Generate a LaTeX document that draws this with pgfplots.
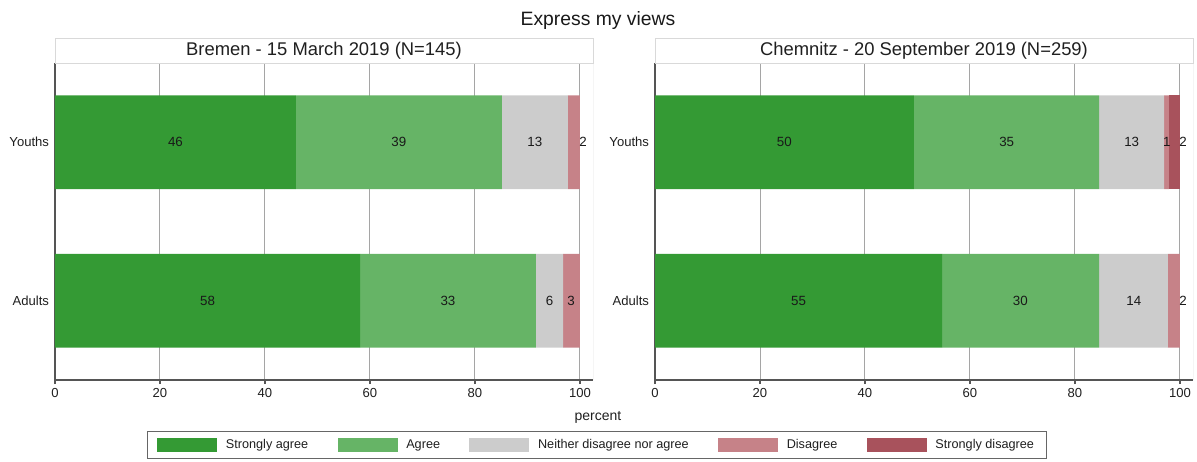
\documentclass[border=0pt]{standalone}
\usepackage{fontspec}
\setmainfont{Liberation Sans}
\usepackage{pgfplots}
\pgfplotsset{compat=1.18}
\usepackage{pgfplotstable}

\definecolor{sagree}{RGB}{52,154,52}
\definecolor{agree}{RGB}{102,180,102}
\definecolor{neith}{RGB}{204,204,204}
\definecolor{disag}{RGB}{198,130,136}
\definecolor{sdisag}{RGB}{168,82,92}
\definecolor{gridc}{RGB}{165,165,165}
\definecolor{axc}{RGB}{85,85,85}

\pgfplotstableread{
y SA A N D SD
1 58.1 33.5 5.2 3.2 0
2 45.9 39.2 12.6 2.3 0
}\bremen

\pgfplotstableread{
y SA A N D SD
1 54.7 29.9 13.1 2.3 0
2 49.3 35.3 12.4 0.9 2.1
}\chemnitz

\pgfplotstableread{
x y l
22.95 2 46
65.5 2 39
91.4 2 13
100.6 2 2
29.05 1 58
74.85 1 33
94.2 1 6
98.3 1 3
}\bremenlab

\pgfplotstableread{
x y l
24.65 2 50
67.0 2 35
90.8 2 13
97.5 2 1
100.6 2 2
27.35 1 55
69.6 1 30
91.2 1 14
100.6 1 2
}\chemnitzlab

\pgfplotsset{
  base/.style={
    scale only axis, width=403.5pt, height=237.75pt,
    xmin=0, xmax=102.48, ymin=0.5, ymax=2.5,
    anchor=south west,
  },
  panel/.style={
    base,
    xbar stacked, bar width=0.59,
    axis x line*=bottom, axis y line*=left,
    axis line style={axc, line width=1pt, -},
    xtick={0,20,40,60,80,100},
    ytick={1,2}, yticklabels={Adults,Youths},
    ytick style={draw=none},
    yticklabel style={xshift=2pt},
    xtick style={axc, line width=0.8pt},
    tick align=outside, major tick length=3pt,
    xmajorgrids, major grid style={gridc, line width=0.75pt},
    tick label style={font=\fontsize{9.8}{11}\selectfont, text=black!88},
    /pgf/number format/assume math mode=true,
    title style={at={(0.5,1)}, anchor=south, yshift=-6pt, draw=black!15, line width=0.6pt,
      inner sep=0pt, outer sep=0pt, minimum width=403.5pt, minimum height=18.75pt,
      font=\fontsize{13.8}{16}\selectfont, text=black!88},
    legend image code/.code={\path[#1, draw=none] (0pt,-5.6pt) rectangle (45pt,5.6pt);},
  },
  seg/.style={fill=#1, draw=none},
  labs/.style={
    base, hide axis,
  },
}

\begin{document}
\begin{tikzpicture}
\useasboundingbox (0,0) rectangle (897.75pt,345.75pt);

% ---------- Bremen ----------
\begin{axis}[panel, at={(41.25pt,60.75pt)},
  title={Bremen - 15 March 2019 (N=145)},
  legend columns=5,
  legend style={at={(1.0074,-0.205)}, anchor=center, draw=black!60, line width=0.7pt,
    inner xsep=7pt, inner ysep=4pt,
    font=\fontsize{9.5}{11}\selectfont, text=black!88,
    /tikz/every odd column/.append style={column sep=4.5pt},
    /tikz/every even column/.append style={column sep=20pt}},
  legend cell align=left]
\addplot[seg=sagree] table[x=SA, y=y] {\bremen};
\addplot[seg=agree] table[x=A, y=y] {\bremen};
\addplot[seg=neith] table[x=N, y=y] {\bremen};
\addplot[seg=disag] table[x=D, y=y] {\bremen};
\addplot[seg=sdisag] table[x=SD, y=y] {\bremen};
\legend{Strongly agree, Agree, Neither disagree nor agree, Disagree, Strongly disagree}
\draw[black!30, line width=0.6pt] (rel axis cs:1,0) -- (rel axis cs:1,1);
\end{axis}
\begin{axis}[labs, at={(41.25pt,60.75pt)}]
\addplot[draw=none, nodes near coords, point meta=explicit symbolic,
  every node near coord/.append style={anchor=center, font=\fontsize{10}{12}\selectfont, text=black!90}]
  table[x=x, y=y, meta=l] {\bremenlab};
\end{axis}

% ---------- Chemnitz ----------
\begin{axis}[panel, at={(491.25pt,60.75pt)},
  title={Chemnitz - 20 September 2019 (N=259)}]
\addplot[seg=sagree] table[x=SA, y=y] {\chemnitz};
\addplot[seg=agree] table[x=A, y=y] {\chemnitz};
\addplot[seg=neith] table[x=N, y=y] {\chemnitz};
\addplot[seg=disag] table[x=D, y=y] {\chemnitz};
\addplot[seg=sdisag] table[x=SD, y=y] {\chemnitz};
\draw[black!30, line width=0.6pt] (rel axis cs:1,0) -- (rel axis cs:1,1);
\end{axis}
\begin{axis}[labs, at={(491.25pt,60.75pt)}]
\addplot[draw=none, nodes near coords, point meta=explicit symbolic,
  every node near coord/.append style={anchor=center, font=\fontsize{10}{12}\selectfont, text=black!90}]
  table[x=x, y=y, meta=l] {\chemnitzlab};
\end{axis}

\node[font=\fontsize{14.5}{17}\selectfont, text=black!90] at (448.5pt,330pt) {Express my views};
\node[font=\fontsize{10.5}{12}\selectfont, text=black!88] at (448.5pt,33pt) {percent};
\end{tikzpicture}
\end{document}
